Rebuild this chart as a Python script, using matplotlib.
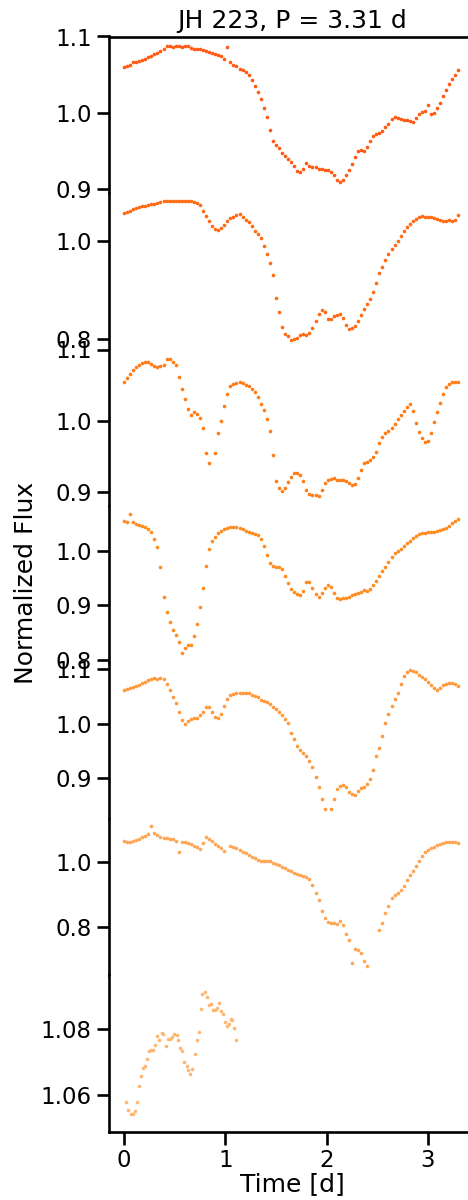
import numpy as np
import matplotlib
matplotlib.use('Agg')
import matplotlib.pyplot as plt
from matplotlib.ticker import FormatStrFormatter

nan = np.nan

title = 'JH 223, P = 3.31 d'

# phase-folded time grid shared by the first six cycles [d]
time_d = [0.00, 0.03, 0.06, 0.09, 0.12, 0.15, 0.18, 0.21, 0.24, 0.27,
          0.30, 0.33, 0.36, 0.39, 0.42, 0.45, 0.48, 0.51, 0.54, 0.57,
          0.60, 0.63, 0.66, 0.69, 0.72, 0.75, 0.78, 0.81, 0.84, 0.87,
          0.90, 0.93, 0.96, 0.99, 1.02, 1.05, 1.08, 1.11, 1.14, 1.17,
          1.20, 1.23, 1.26, 1.29, 1.32, 1.35, 1.38, 1.41, 1.44, 1.47,
          1.50, 1.53, 1.56, 1.59, 1.62, 1.65, 1.68, 1.71, 1.74, 1.77,
          1.80, 1.83, 1.86, 1.89, 1.92, 1.95, 1.98, 2.01, 2.04, 2.07,
          2.10, 2.13, 2.16, 2.19, 2.22, 2.25, 2.28, 2.31, 2.34, 2.37,
          2.40, 2.43, 2.46, 2.49, 2.52, 2.55, 2.58, 2.61, 2.64, 2.67,
          2.70, 2.73, 2.76, 2.79, 2.82, 2.85, 2.88, 2.91, 2.94, 2.97,
          3.00, 3.03, 3.06, 3.09, 3.12, 3.15, 3.18, 3.21, 3.24, 3.27,
          3.30]

flux_1 = [1.060, 1.061, 1.063, 1.066, 1.067, 1.068, 1.069, 1.071, 1.073, 1.075,
          1.077, 1.079, 1.081, 1.083, 1.087, 1.087, 1.086, 1.087, 1.087, 1.086,
          1.088, 1.087, 1.085, 1.084, 1.083, 1.083, 1.082, 1.081, 1.080, 1.079,
          1.077, 1.076, 1.074, 1.071, 1.086, 1.066, 1.063, 1.061, 1.058, 1.056,
          1.054, 1.050, 1.043, 1.035, 1.027, 1.018, 1.006, 0.994, 0.977, 0.963,
          0.958, 0.954, 0.948, 0.943, 0.940, 0.936, 0.930, 0.924, 0.922, 0.927,
          0.934, 0.931, 0.929, 0.929, 0.927, 0.926, 0.925, 0.925, 0.923, 0.919,
          0.912, 0.909, 0.912, 0.918, 0.925, 0.933, 0.942, 0.950, 0.951, 0.950,
          0.955, 0.963, 0.970, 0.972, 0.973, 0.976, 0.981, 0.986, 0.992, 0.994,
          0.993, 0.992, 0.991, 0.990, 0.989, 0.988, 0.993, 0.998, 1.001, 1.003,
          1.010, 0.999, 1.000, 1.006, 1.013, 1.022, 1.030, 1.038, 1.044, 1.050,
          1.056]

flux_2 = [1.059, 1.061, 1.063, 1.066, 1.068, 1.070, 1.072, 1.073, 1.074, 1.076,
          1.077, 1.079, 1.081, 1.082, 1.083, 1.082, 1.083, 1.083, 1.083, 1.083,
          1.083, 1.083, 1.082, 1.081, 1.079, 1.074, 1.063, 1.052, 1.042, 1.032,
          1.025, 1.024, 1.027, 1.034, 1.041, 1.047, 1.050, 1.053, 1.056, 1.050,
          1.043, 1.040, 1.032, 1.021, 1.015, 1.007, 0.990, 0.975, 0.956, 0.932,
          0.885, 0.855, 0.826, 0.810, 0.807, 0.799, 0.800, 0.803, 0.808, 0.810,
          0.809, 0.813, 0.822, 0.838, 0.852, 0.860, 0.856, 0.842, 0.841, 0.847,
          0.850, 0.852, 0.843, 0.830, 0.820, 0.822, 0.828, 0.837, 0.850, 0.862,
          0.872, 0.883, 0.897, 0.915, 0.935, 0.948, 0.962, 0.975, 0.985, 0.992,
          1.000, 1.011, 1.022, 1.030, 1.036, 1.041, 1.045, 1.049, 1.051, 1.050,
          1.050, 1.049, 1.048, 1.046, 1.044, 1.042, 1.041, 1.043, 1.042, 1.044,
          1.053]

flux_3 = [1.055, 1.060, 1.066, 1.071, 1.075, 1.078, 1.081, 1.083, 1.082, 1.080,
          1.077, 1.076, 1.077, 1.078, 1.087, 1.086, 1.083, 1.078, 1.061, 1.045,
          1.030, 1.016, 1.008, 1.012, 1.010, 1.004, 0.990, 0.955, 0.940, nan,
          0.955, 0.983, 1.000, 1.020, 1.038, 1.049, 1.052, 1.053, 1.054, 1.053,
          1.050, 1.048, 1.045, 1.040, 1.033, 1.024, 1.015, 1.002, 0.985, 0.952,
          0.915, 0.905, 0.901, 0.906, 0.914, 0.921, 0.926, 0.927, 0.924, 0.915,
          0.902, 0.897, 0.896, 0.895, 0.894, 0.902, 0.912, 0.917, 0.918, 0.919,
          0.917, 0.916, 0.916, 0.915, 0.913, 0.910, 0.911, 0.919, 0.930, 0.940,
          0.942, 0.944, 0.949, 0.956, 0.968, 0.977, 0.982, 0.986, 0.990, 0.995,
          1.002, 1.008, 1.014, 1.019, 1.023, 1.013, 0.996, 0.984, 0.976, 0.970,
          0.972, 0.983, 0.998, 1.012, 1.025, 1.038, 1.047, 1.052, 1.054, 1.054,
          1.054]

flux_4 = [1.055, 1.052, 1.067, 1.052, 1.049, 1.047, 1.046, 1.044, 1.040, 1.035,
          1.022, 1.007, 0.970, 0.915, 0.888, 0.869, 0.855, 0.845, 0.832, 0.812,
          0.822, 0.827, 0.827, 0.843, 0.866, 0.897, 0.932, 0.972, 1.003, 1.018,
          1.026, 1.032, 1.037, 1.040, 1.042, 1.043, 1.044, 1.044, 1.042, 1.040,
          1.037, 1.034, 1.032, 1.030, 1.028, 1.022, 1.008, 0.993, 0.978, 0.972,
          0.971, 0.970, 0.967, 0.954, 0.940, 0.930, 0.924, 0.921, 0.918, 0.927,
          0.942, 0.943, 0.932, 0.920, 0.916, 0.923, 0.931, 0.937, 0.933, 0.922,
          0.914, 0.911, 0.913, 0.914, 0.916, 0.918, 0.920, 0.922, 0.925, 0.928,
          0.927, 0.930, 0.937, 0.945, 0.954, 0.962, 0.971, 0.980, 0.989, 0.995,
          1.000, 1.004, 1.009, 1.014, 1.018, 1.023, 1.027, 1.030, 1.032, 1.033,
          1.034, 1.034, 1.035, 1.036, 1.038, 1.040, 1.042, 1.046, 1.051, 1.055,
          1.059]

flux_5 = [1.062, 1.063, 1.065, 1.067, 1.069, 1.071, 1.074, 1.077, 1.080, 1.082,
          1.083, 1.082, 1.083, 1.081, 1.072, 1.061, 1.049, 1.038, 1.022, 1.007,
          0.999, 1.004, 1.008, 1.010, 1.011, 1.015, 1.021, 1.030, 1.031, 1.021,
          1.012, 1.011, 1.018, 1.033, 1.046, 1.052, 1.054, 1.056, 1.057, 1.057,
          1.057, 1.057, 1.053, 1.050, 1.048, 1.044, 1.041, 1.039, 1.036, 1.031,
          1.026, 1.021, 1.015, 1.009, 1.001, 0.983, 0.972, 0.960, 0.952, 0.946,
          0.940, 0.932, 0.920, 0.902, 0.884, 0.862, 0.843, nan, 0.844, 0.862,
          0.880, 0.886, 0.888, 0.884, 0.875, 0.871, 0.869, 0.876, 0.882, 0.884,
          0.890, 0.899, 0.915, 0.940, 0.955, 0.978, 1.002, 1.017, 1.032, 1.046,
          1.057, 1.073, 1.087, 1.095, 1.099, 1.097, 1.094, 1.090, 1.086, 1.082,
          1.077, 1.071, 1.065, 1.062, 1.066, 1.070, 1.073, 1.075, 1.074, 1.072,
          1.069]

flux_6 = [1.064, 1.062, 1.061, 1.063, 1.068, 1.072, 1.076, 1.080, 1.085, 1.112,
          1.089, 1.082, 1.077, 1.075, 1.074, 1.072, 1.070, 1.065, 1.030, 1.062,
          1.060, 1.059, 1.054, 1.049, 1.045, 1.040, 1.057, 1.076, 1.069, 1.063,
          1.056, 1.049, 1.042, 1.034, nan, 1.050, 1.046, 1.043, 1.038, 1.032,
          1.027, 1.020, 1.015, 1.011, 1.007, 1.003, 1.003, 1.004, 1.002, 0.998,
          0.994, 0.990, 0.986, 0.981, 0.976, 0.971, 0.967, 0.963, 0.960, 0.958,
          0.955, 0.949, 0.930, 0.906, 0.884, 0.848, 0.827, 0.815, 0.812, 0.811,
          0.809, 0.818, 0.806, 0.778, 0.760, 0.690, 0.733, 0.729, 0.720, 0.695,
          0.680, nan, nan, nan, 0.790, 0.812, 0.842, 0.865, 0.889, 0.899,
          0.906, 0.914, 0.927, 0.943, 0.960, 0.973, 0.988, 1.003, 1.017, 1.030,
          1.037, 1.042, 1.047, 1.052, 1.056, 1.058, 1.060, 1.061, 1.061, 1.061,
          1.059]

# last, incomplete cycle
time_7 = [0.020, 0.043, 0.066, 0.086, 0.109, 0.125, 0.148, 0.168, 0.191, 0.210,
          0.224, 0.247, 0.263, 0.290, 0.306, 0.329, 0.349, 0.372, 0.388, 0.411,
          0.431, 0.454, 0.477, 0.497, 0.520, 0.536, 0.553, 0.576, 0.592, 0.618,
          0.635, 0.651, 0.674, 0.697, 0.717, 0.737, 0.757, 0.773, 0.796, 0.816,
          0.836, 0.855, 0.882, 0.898, 0.921, 0.938, 0.957, 0.974, 0.997, 1.013,
          1.033, 1.053, 1.069, 1.089, 1.105]
flux_7 = [1.0580, 1.0555, 1.0543, 1.0545, 1.0553, 1.0580, 1.0627, 1.0657, 1.0683, 1.0687,
          1.0708, 1.0733, 1.0735, 1.0737, 1.0750, 1.0777, 1.0765, 1.0787, 1.0783, 1.0747,
          1.0770, 1.0769, 1.0775, 1.0783, 1.0780, 1.0767, 1.0743, 1.0733, 1.0700, 1.0687,
          1.0677, 1.0663, 1.0680, 1.0723, 1.0765, 1.0790, 1.0860, 1.0905, 1.0910, 1.0895,
          1.0870, 1.0875, 1.0855, 1.0857, 1.0863, 1.0877, 1.0853, 1.0843, 1.0820, 1.0807,
          1.0813, 1.0830, 1.0827, 1.0803, 1.0767]

times = [time_d] * 6 + [time_7]
fluxes = [flux_1, flux_2, flux_3, flux_4, flux_5, flux_6, flux_7]
colors = ['#ff5a14', '#ff6a14', '#ff7c16', '#ff8c20', '#ff9a3c', '#ffa654', '#ffb672']

# per-panel y ranges and ticks
ylims = [(0.895, 1.100), (0.779, 1.099), (0.880, 1.100), (0.795, 1.082),
         (0.8255, 1.112), (0.651, 1.132), (1.049, 1.096)]
yticks = [[0.9, 1.0, 1.1], [0.8, 1.0], [0.9, 1.0, 1.1], [0.8, 0.9, 1.0],
          [0.9, 1.0, 1.1], [0.8, 1.0], [1.06, 1.08]]
yfmt = ['%.1f'] * 6 + ['%.2f']

plt.rcParams.update({
    'font.family': 'DejaVu Sans',
    'axes.linewidth': 1.9,
    'xtick.major.size': 9, 'ytick.major.size': 9,
    'xtick.major.width': 1.9, 'ytick.major.width': 1.9,
    'xtick.labelsize': 16.5, 'ytick.labelsize': 16.5,
    'axes.labelsize': 18, 'axes.titlesize': 18,
})

fig = plt.figure(figsize=(4.68, 12), dpi=100)
axes = fig.subplots(7, 1, sharex=True)
fig.subplots_adjust(left=109 / 468, right=475 / 468, top=1 - 36.5 / 1200,
                    bottom=1 - 1132 / 1200, hspace=0)

for i, ax in enumerate(axes):
    ax.plot(times[i], fluxes[i], 'o', ms=2.6, mew=0, color=colors[i])
    ax.set_ylim(*ylims[i])
    ax.set_yticks(yticks[i])
    ax.yaxis.set_major_formatter(FormatStrFormatter(yfmt[i]))
    ax.spines['right'].set_visible(False)
    if i > 0:
        ax.spines['top'].set_visible(False)
    if i < 6:
        ax.spines['bottom'].set_visible(False)
        ax.tick_params(axis='x', bottom=False, labelbottom=False)

axes[0].set_title(title)
axes[-1].set_xlim(-0.148, 3.464)
axes[-1].set_xticks([0, 1, 2, 3])
axes[-1].set_xlabel('Time [d]', labelpad=0)
fig.text(26 / 468, 1 - 583 / 1200, 'Normalized Flux', rotation=90,
         ha='center', va='center', fontsize=18)

fig.savefig('out.png', dpi=100)
